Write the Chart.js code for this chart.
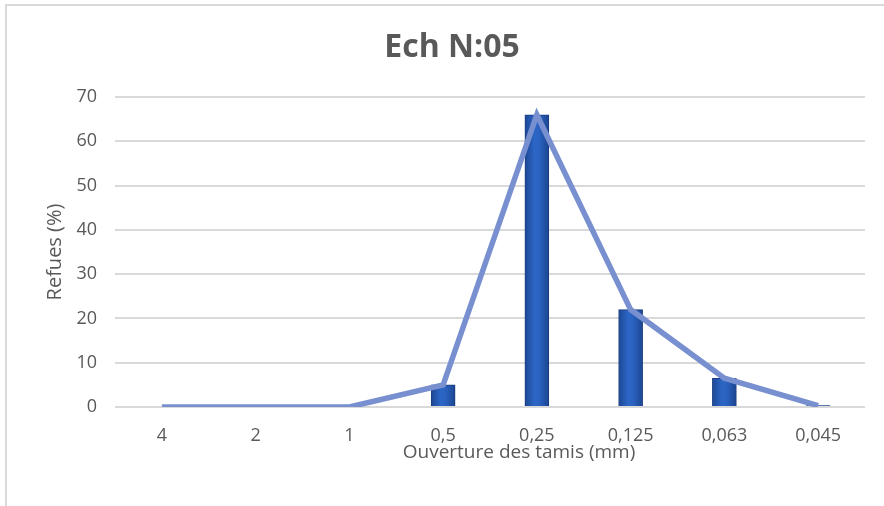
<!DOCTYPE html>
<html>
<head>
<meta charset="utf-8">
<script src="https://cdn.jsdelivr.net/npm/chart.js@4/dist/chart.umd.min.js"></script>
<style>
  html, body { margin: 0; padding: 0; background: #ffffff; }
  #wrap { width: 884px; height: 506px; position: relative; }
</style>
</head>
<body>
<div id="wrap"><canvas id="c" width="884" height="506"></canvas></div>
<script>
const categories = ['4', '2', '1', '0,5', '0,25', '0,125', '0,063', '0,045'];
const refus = [0, 0, 0, 5, 66, 22, 6.5, 0.3];
const yMin = 0, yMax = 70, yStep = 10;
const chartTitle = 'Ech N:05';
const yTitle = 'Refues (%)';
const xTitle = 'Ouverture des tamis (mm)';

const FONT = "'Open Sans', 'Liberation Sans', sans-serif";
const TXT = '#595959';

function barFill(ctx) {
  const chart = ctx.chart;
  const xs = chart.scales && chart.scales.x;
  if (ctx.type !== 'data' || !xs || xs.left === undefined) return '#2A5CB5';
  const px = xs.getPixelForValue(ctx.dataIndex);
  const g = chart.ctx.createLinearGradient(px - 12, 0, px + 12, 0);
  g.addColorStop(0, '#1D4793');
  g.addColorStop(0.4, '#2C66C6');
  g.addColorStop(0.6, '#2A62C0');
  g.addColorStop(1, '#1C4590');
  return g;
}

const frame = {
  id: 'frame',
  beforeDraw(chart) {
    const c = chart.ctx;
    c.save();
    c.fillStyle = '#ffffff';
    c.fillRect(0, 0, chart.width, chart.height);
    c.strokeStyle = '#D9D9D9';
    c.lineWidth = 2;
    c.strokeRect(6, 5, chart.width + 20, chart.height + 20);
    c.restore();
  },
  afterDraw(chart) {
    const c = chart.ctx;
    const a = chart.chartArea;
    c.save();
    c.fillStyle = TXT;
    c.textAlign = 'center';
    c.textBaseline = 'middle';
    c.font = "bold 32px " + FONT;
    c.fillText(chartTitle, chart.width / 2 + 10, a.top - 49);
    c.font = "19px " + FONT;
    c.fillText(xTitle, (a.left + a.right) / 2 + 29, a.bottom + 46);
    c.restore();
  }
};

new Chart(document.getElementById('c'), {
  data: {
    labels: categories,
    datasets: [
      {
        type: 'line',
        data: refus,
        borderColor: '#7890D0',
        borderWidth: 5.5,
        pointRadius: 0,
        tension: 0,
        borderJoinStyle: 'miter',
        order: 0
      },
      {
        type: 'bar',
        data: refus,
        backgroundColor: barFill,
        borderColor: '#1A3C80',
        borderWidth: 1,
        barThickness: 24,
        order: 1
      }
    ]
  },
  options: {
    responsive: false,
    animation: false,
    devicePixelRatio: 1,
    layout: { padding: { top: 97, right: 19, bottom: 0, left: 0 } },
    plugins: {
      legend: { display: false },
      tooltip: { enabled: false },
      title: { display: false }
    },
    scales: {
      x: {
        grid: { display: false, drawTicks: false },
        border: { display: false },
        ticks: { color: TXT, font: { family: FONT, size: 18 }, padding: 18, maxRotation: 0 },
        afterFit(s) { s.height = 99; }
      },
      y: {
        min: yMin, max: yMax,
        ticks: { stepSize: yStep, color: TXT, font: { family: FONT, size: 18 }, padding: 18 },
        grid: { color: '#D9D9D9', lineWidth: 2, drawTicks: false },
        border: { display: false },
        title: { display: true, text: yTitle, color: TXT, font: { family: FONT, size: 20 }, padding: { top: 43, bottom: 0 } },
        afterFit(s) { s.width = 115; }
      }
    }
  },
  plugins: [frame]
});
</script>
</body>
</html>
